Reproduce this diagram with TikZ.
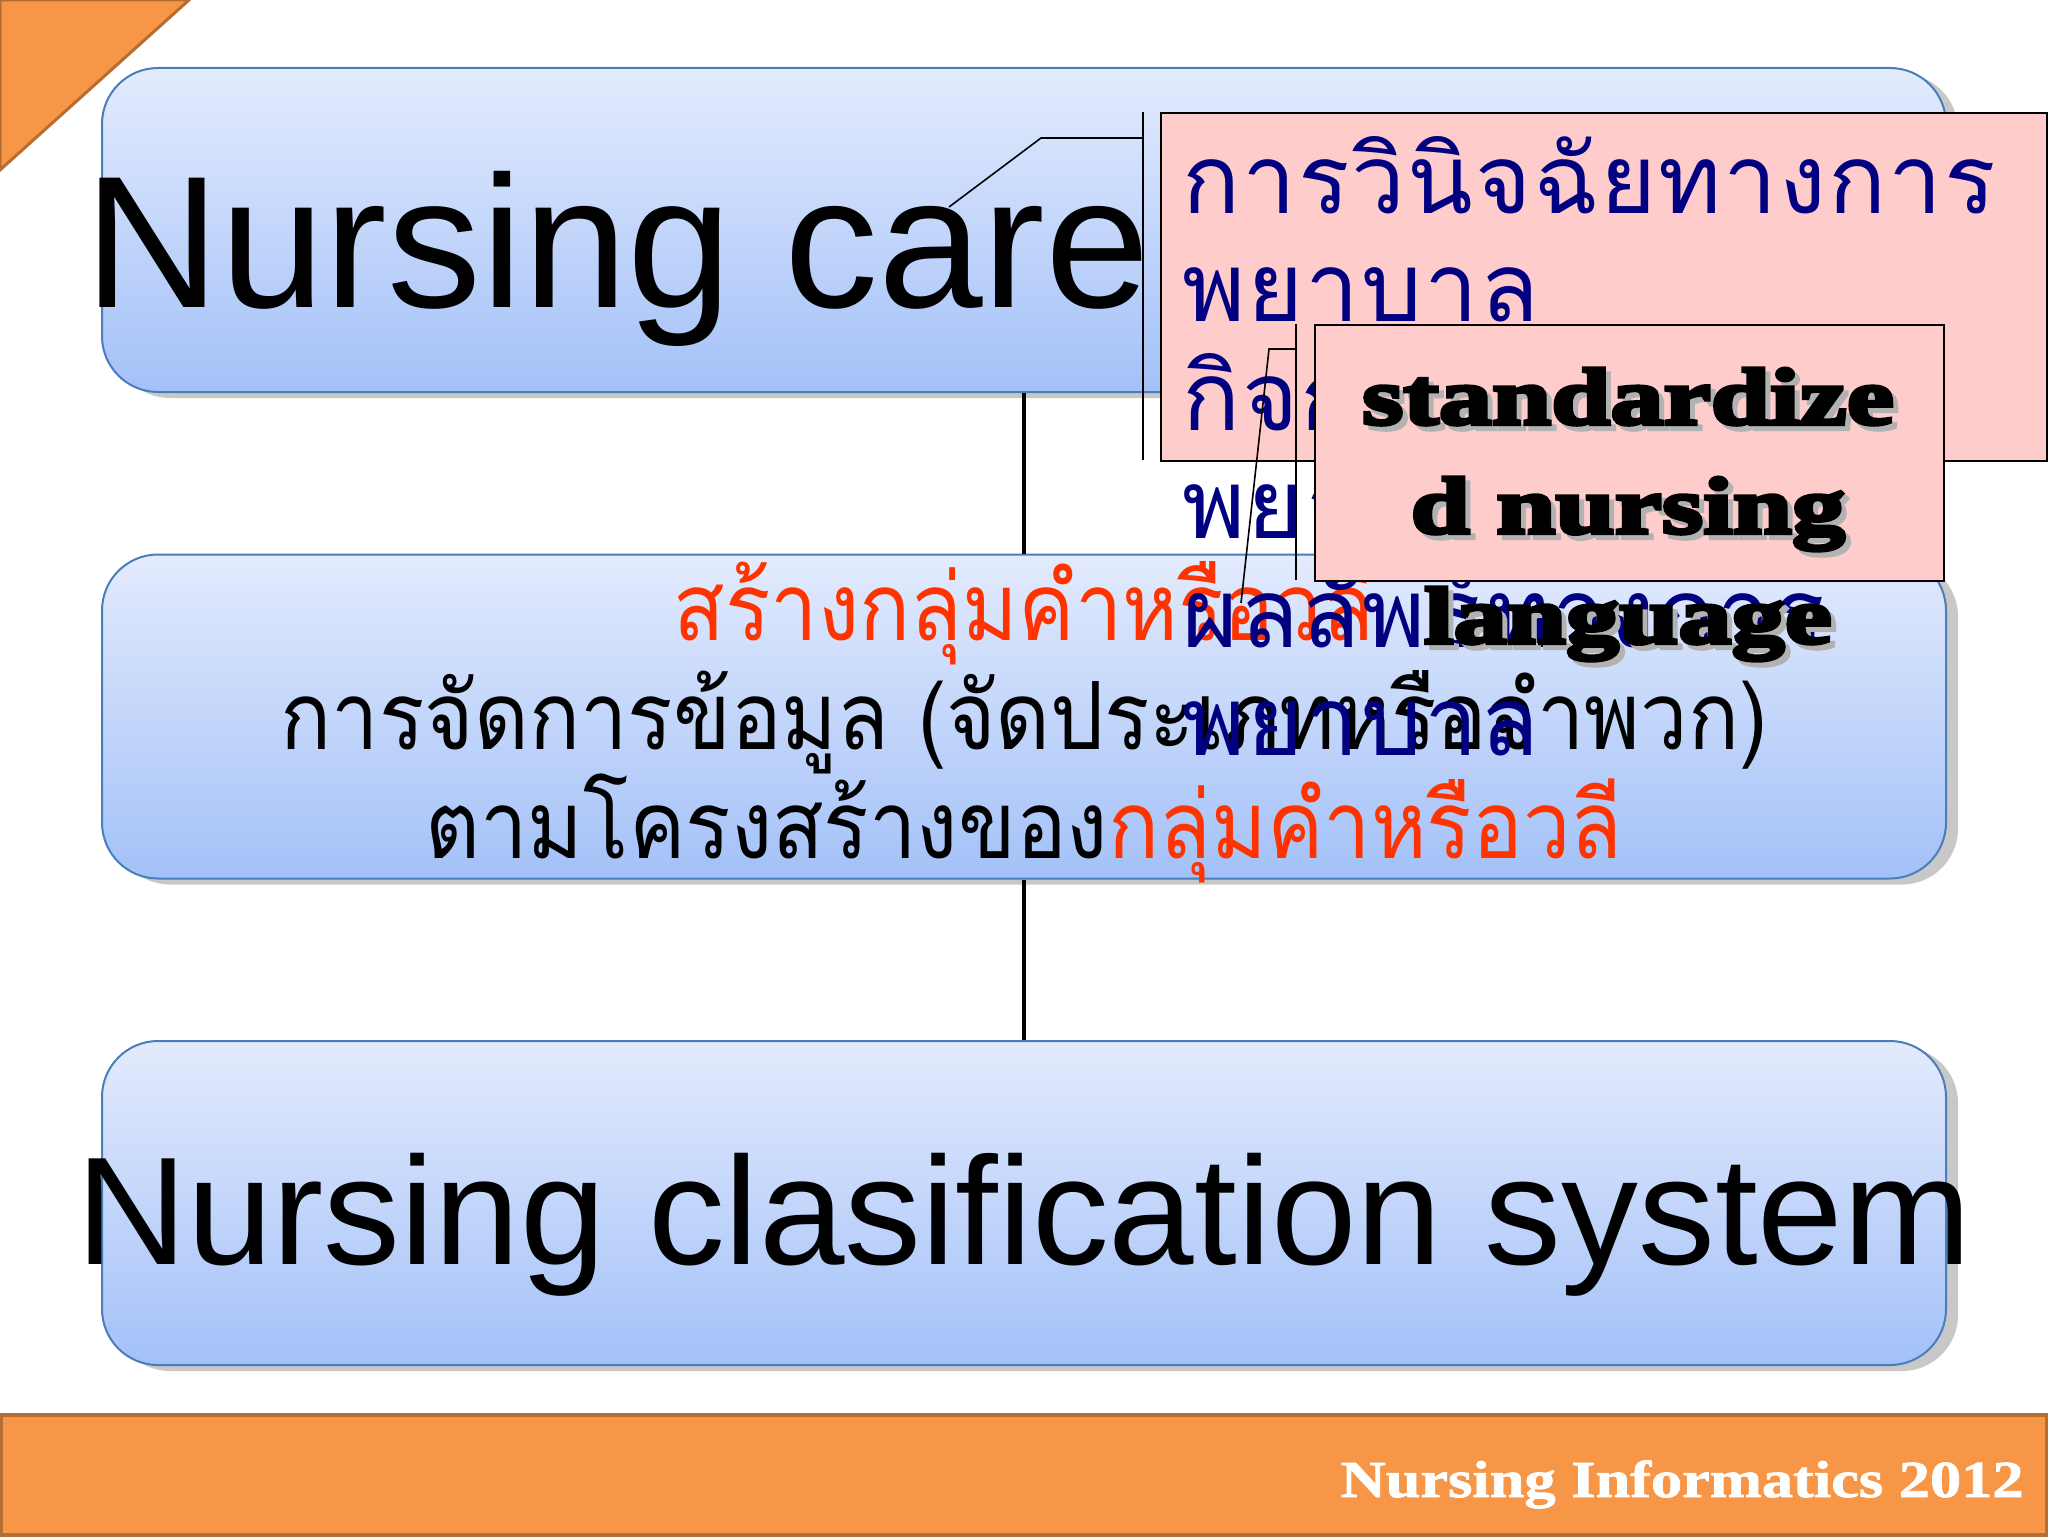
\documentclass[tikz,border=0pt]{standalone}
\usepackage{fontspec}
\setmainfont{Liberation Serif}
\newfontfamily\arialf{Liberation Sans}
\newfontfamily\thai[Script=Thai,FakeStretch=0.9]{Loma}
\newfontfamily\thaisp[Script=Thai,LetterSpace=2]{Loma}
\newfontfamily\poster[FakeBold=5,FakeStretch=1.33]{Liberation Serif}
\newfontfamily\footf[FakeStretch=1.2,FakeBold=1.5]{Liberation Serif}
\usetikzlibrary{shadows}
\definecolor{boxtop}{RGB}{227,235,253}
\definecolor{boxbot}{RGB}{163,193,248}
\definecolor{boxline}{RGB}{74,126,187}
\definecolor{pinkf}{RGB}{255,204,204}
\definecolor{navyt}{RGB}{0,0,128}
\definecolor{redt}{RGB}{255,51,0}
\definecolor{orangef}{RGB}{247,150,70}
\definecolor{oranged}{RGB}{182,109,49}
\definecolor{shadowg}{RGB}{200,200,200}
\tikzset{
  bluebox/.style={rectangle, rounded corners=28pt, draw=boxline, line width=1pt,
    top color=boxtop, bottom color=boxbot, minimum width=922pt, minimum height=162pt,
    inner sep=0pt, drop shadow={shadow xshift=6pt, shadow yshift=-3pt, fill=shadowg, opacity=1}},
  link/.style={line width=2pt, black},
  leader/.style={line width=0.8pt, black},
  pinkbox/.style={rectangle, draw=black, line width=1pt, fill=pinkf, anchor=north west, inner sep=0pt},
  thaimid/.style={anchor=base, inner sep=0pt, font=\thai\fontsize{47}{52}\selectfont},
  thaicall/.style={anchor=base west, inner sep=0pt, text=navyt, font=\thaisp\fontsize{48}{54}\selectfont},
  postert/.style={anchor=base, inner sep=0pt, font=\poster\bfseries\fontsize{40}{44}\selectfont},
}
\begin{document}
\begin{tikzpicture}[x=0.5pt,y=-0.5pt]
\useasboundingbox (0,0) rectangle (2048,1536);
\fill[white] (0,0) rectangle (2048,1536);
% corner triangle
\draw[fill=orangef, draw=oranged, line width=1.5pt] (0,0) -- (189,0) -- (0,170) -- cycle;
% boxes
\node[bluebox] (care) at (1024,230) {};
\node[bluebox] (mid) at (1024,716.5) {};
\node[bluebox] (cls) at (1024,1203) {};
\draw[link] (care.south) -- (mid.north);
\draw[link] (mid.south) -- (cls.north);
% box texts
\node[anchor=base west, inner sep=0pt, font=\arialf\fontsize{94}{100}\selectfont] (caret) at (84,307) {Nursing care};
\node[anchor=base, inner sep=0pt, font=\arialf\fontsize{76.8}{80}\selectfont] (clst) at (1024,1264) {Nursing clasification system};
\node[thaimid, text=redt] (m1) at (1024,640) {สร้างกลุ่มคำหรือวลี};
\node[thaimid] (m2) at (1024,749) {การจัดการข้อมูล (จัดประเภทหรือจำพวก)};
\node[thaimid] (m3) at (1024,858) {ตามโครงสร้างของ\textcolor{redt}{กลุ่มคำหรือวลี}};
% callout 1
\node[pinkbox, minimum width=443pt, minimum height=174pt] (c1) at (1160,112) {};
\coordinate (c1bt) at (1143,112);
\coordinate (c1bb) at (1143,460);
\coordinate (c1a) at (1143,138);
\coordinate (c1k) at (1041,138);
\coordinate (c1p) at (949,207);
\draw[leader] (c1bt) -- (c1bb);
\draw[leader] (c1a) -- (c1k) -- (c1p);
\node[thaicall] (t1) at (1182,213) {การวินิจฉัยทางการ};
\node[thaicall] (t2) at (1182,321) {พยาบาล};
\node[thaicall] (t3) at (1182,430) {กิจกรรมการ};
\node[thaicall] (t4) at (1182,538) {พยาบาล};
\node[thaicall] (t5) at (1182,647) {ผลลัพธ์ทางการ};
\node[thaicall] (t6) at (1182,755) {พยาบาล};
% callout 2
\node[pinkbox, minimum width=314.5pt, minimum height=128pt] (c2) at (1314,324) {};
\coordinate (c2bt) at (1296,324);
\coordinate (c2bb) at (1296,580);
\coordinate (c2a) at (1296,349);
\coordinate (c2k) at (1269,349);
\coordinate (c2p) at (1241,603);
\draw[leader] (c2bt) -- (c2bb);
\draw[leader] (c2a) -- (c2k) -- (c2p);
\node[postert, text=black!30] (s1s) at (1633,429) {standardize};
\node[postert, text=black!30] (s2s) at (1633,538) {d nursing};
\node[postert, text=black!30] (s3s) at (1633,648) {language};
\node[postert] (s1) at (1628,424) {standardize};
\node[postert] (s2) at (1628,533) {d nursing};
\node[postert] (s3) at (1628,643) {language};
% footer
\draw[fill=orangef, draw=oranged, line width=2pt] (1,1415) rectangle (2047,1535);
\node[anchor=base east, inner sep=0pt, text=white, font=\footf\bfseries\fontsize{26}{28}\selectfont] (foot) at (2024,1497) {Nursing Informatics 2012};
\end{tikzpicture}
\end{document}
